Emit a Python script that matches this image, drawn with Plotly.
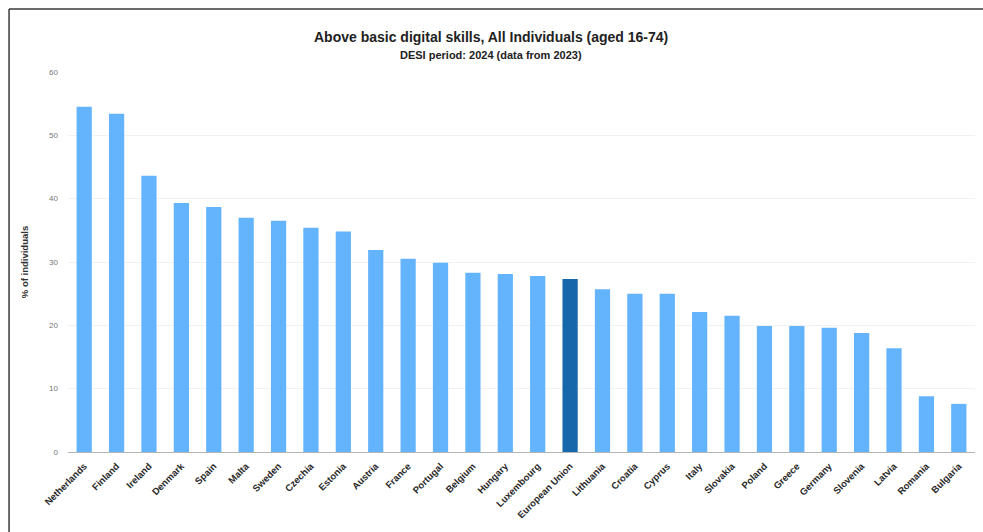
import plotly.graph_objects as go

# Share of individuals (16-74) with above basic digital skills, DESI 2024
countries = [
    "Netherlands", "Finland", "Ireland", "Denmark", "Spain", "Malta", "Sweden",
    "Czechia", "Estonia", "Austria", "France", "Portugal", "Belgium", "Hungary",
    "Luxembourg", "European Union", "Lithuania", "Croatia", "Cyprus", "Italy",
    "Slovakia", "Poland", "Greece", "Germany", "Slovenia", "Latvia", "Romania",
    "Bulgaria",
]
values = [
    54.5, 53.4, 43.6, 39.3, 38.7, 37.0, 36.5,
    35.4, 34.8, 31.9, 30.5, 29.9, 28.3, 28.1,
    27.8, 27.3, 25.7, 25.0, 25.0, 22.1,
    21.5, 19.9, 19.9, 19.6, 18.8, 16.4, 8.8,
    7.6,
]
y_ticks = [0, 10, 20, 30, 40, 50, 60]

highlight = "European Union"
bar_colors = ["#1767ab" if c == highlight else "#63b4fc" for c in countries]

fig = go.Figure(
    go.Bar(
        x=countries,
        y=values,
        marker=dict(color=bar_colors, line=dict(width=0)),
        hovertemplate="%{x}: %{y:.1f}%<extra></extra>",
    )
)

fig.update_layout(
    width=983,
    height=532,
    margin=dict(l=68, r=8, t=72, b=80),
    paper_bgcolor="white",
    plot_bgcolor="white",
    bargap=0.53,
    showlegend=False,
    font=dict(family="Liberation Sans, Arial, sans-serif", color="#333333"),
    xaxis=dict(
        tickangle=-45,
        tickfont=dict(size=9.5, color="#2a2a2a", weight="bold",
                      family="Liberation Sans, Arial, sans-serif"),
        showline=True,
        linecolor="#b5b5b5",
        linewidth=1,
        showgrid=False,
        ticks="",
        ticklabelstandoff=4,
        fixedrange=True,
    ),
    yaxis=dict(
        range=[0, 60],
        tickvals=y_ticks,
        tickfont=dict(size=8, color="#777777"),
        showgrid=True,
        gridcolor="#f1f1f1",
        gridwidth=1,
        zeroline=False,
        ticks="",
        ticklabelstandoff=9,
        title=dict(
            text="<b>% of individuals</b>",
            font=dict(size=9.5, color="#333333"),
            standoff=18,
        ),
        fixedrange=True,
    ),
    annotations=[
        dict(
            text="<b>Above basic digital skills, All Individuals (aged 16-74)</b>",
            xref="paper", yref="paper", x=0.466, y=1.092,
            xanchor="center", yanchor="middle", showarrow=False,
            font=dict(size=14, color="#222222"),
        ),
        dict(
            text="<b>DESI period: 2024 (data from 2023)</b>",
            xref="paper", yref="paper", x=0.466, y=1.045,
            xanchor="center", yanchor="middle", showarrow=False,
            font=dict(size=11, color="#222222"),
        ),
    ],
    shapes=[
        # outer frame, top and left edges
        dict(type="line", xref="paper", yref="paper",
             x0=-0.065, x1=1.02, y0=1.1658, y1=1.1658,
             line=dict(color="#3a3a3a", width=1.5)),
        dict(type="line", xref="paper", yref="paper",
             x0=-0.065, x1=-0.065, y0=1.1658, y1=-0.25,
             line=dict(color="#3a3a3a", width=1.5)),
    ],
)

fig.write_html("out.html")
